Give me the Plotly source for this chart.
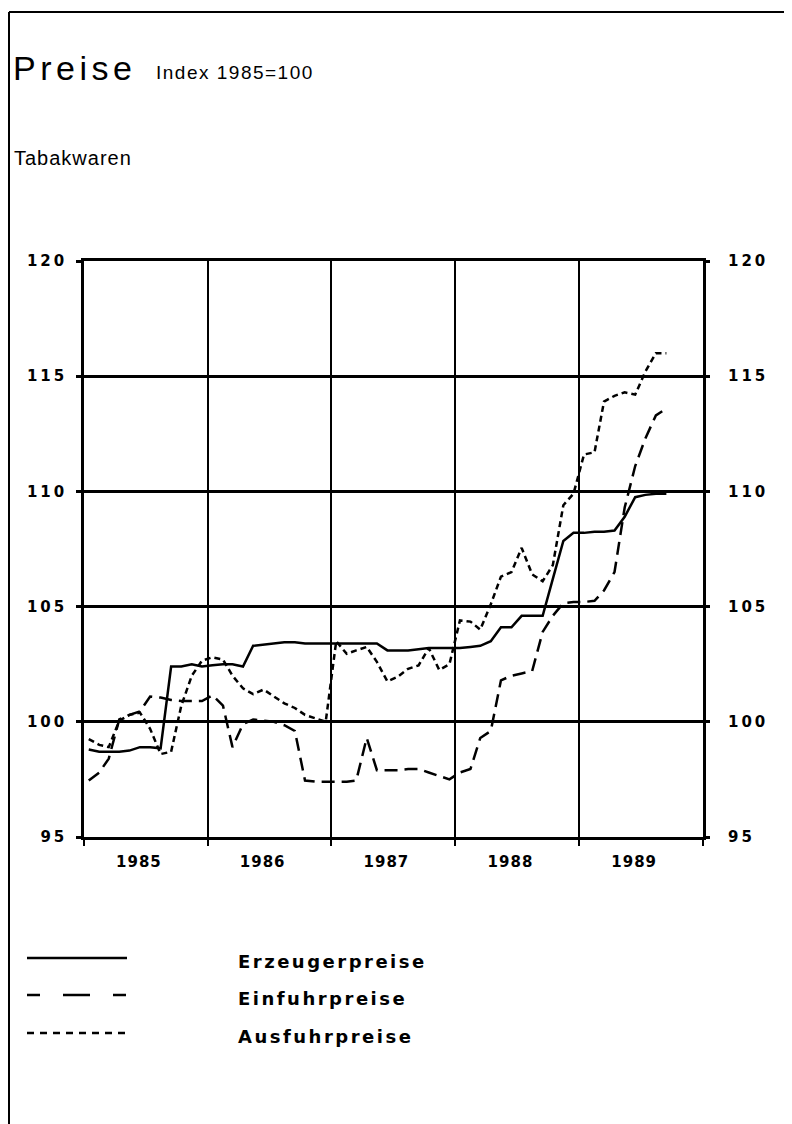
import pandas as pd
import plotly.graph_objects as go

# ---- data (monthly index values, 1985=100) ----
erzeuger = [98.8, 98.7, 98.7, 98.7, 98.75, 98.9, 98.9, 98.85, 102.4, 102.4, 102.5, 102.4,
            102.45, 102.5, 102.5, 102.4, 103.3, 103.35, 103.4, 103.45, 103.45, 103.4, 103.4, 103.4,
            103.4, 103.4, 103.4, 103.4, 103.4, 103.1, 103.1, 103.1, 103.15, 103.2, 103.2, 103.2,
            103.2, 103.25, 103.3, 103.5, 104.1, 104.1, 104.6, 104.6, 104.6, 106.2, 107.85, 108.2,
            108.2, 108.25, 108.25, 108.3, 108.9, 109.75, 109.85, 109.9, 109.9]
einfuhr = [97.45, 97.8, 98.4, 100.1, 100.3, 100.45, 101.1, 101.05, 100.95, 100.9, 100.9, 100.9,
           101.15, 100.7, 98.9, 99.9, 100.1, 100.05, 100.0, 99.85, 99.6, 97.45, 97.4, 97.4,
           97.4, 97.4, 97.45, 99.3, 97.9, 97.9, 97.9, 97.95, 97.95, 97.8, 97.65, 97.5,
           97.8, 97.95, 99.3, 99.6, 101.8, 102.0, 102.1, 102.2, 103.9, 104.6, 105.15, 105.2,
           105.2, 105.25, 105.7, 106.5, 109.3, 111.1, 112.3, 113.3, 113.6]
ausfuhr = [99.25, 99.0, 98.9, 100.05, 100.3, 100.4, 99.7, 98.6, 98.7, 100.7, 102.0, 102.65,
           102.8, 102.7, 102.0, 101.45, 101.2, 101.4, 101.1, 100.8, 100.6, 100.3, 100.15, 100.0,
           103.5, 102.95, 103.1, 103.25, 102.6, 101.75, 101.95, 102.3, 102.45, 103.2, 102.25, 102.5,
           104.4, 104.35, 104.0, 105.1, 106.3, 106.5, 107.55, 106.4, 106.1, 106.8, 109.4, 109.9,
           111.6, 111.7, 113.9, 114.15, 114.3, 114.2, 115.2, 116.0, 116.0]
years = ["1985", "1986", "1987", "1988", "1989"]
y_ticks = [95, 100, 105, 110, 115, 120]
series_names = ["Erzeugerpreise", "Einfuhrpreise", "Ausfuhrpreise"]

dates = pd.date_range(start="1985-01-01", periods=len(erzeuger), freq="MS") + pd.Timedelta(days=14)

W, H = 792, 1124
OFF = 8  # page body margin
L, R, T, B = 84, 703, 261, 837


def px_x(p):
    return (p - L) / (R - L)


def px_y(p):
    return (B - p) / (B - T)


dashes = ["solid", "13px,7px", "6px,4px"]
fig = go.Figure()
for name, vals, d in zip(series_names, [erzeuger, einfuhr, ausfuhr], dashes):
    fig.add_trace(go.Scatter(x=dates, y=vals, mode="lines", name=name,
                             line=dict(color="black", width=2.5, dash=d),
                             showlegend=False))

tickfont = dict(family="DejaVu Sans", size=15, color="black", weight="bold")
xlab = [f'<span style="letter-spacing:1px">{y}</span>' for y in years]
ylab = [f'<span style="letter-spacing:3px">{v}</span>' for v in y_ticks]
fig.update_layout(
    width=W, height=H,
    margin=dict(l=L - OFF, r=W - (R - OFF), t=T - OFF, b=H - (B - OFF), pad=0),
    paper_bgcolor="white", plot_bgcolor="white",
    xaxis=dict(
        type="date",
        range=["1985-01-01", "1990-01-01"],
        tickmode="array",
        tickvals=[f"{y}-06-12" for y in years],
        ticktext=xlab,
        ticks="", showgrid=False,
        showline=True, linecolor="black", linewidth=2.5, mirror=True,
        tickfont=tickfont, ticklabelstandoff=9,
        minor=dict(tickmode="array",
                   tickvals=[f"{y}-01-01" for y in years + ["1990"]],
                   showgrid=True, gridcolor="black", gridwidth=2,
                   ticks="outside", ticklen=6, tickwidth=2, tickcolor="black"),
        zeroline=False,
    ),
    yaxis=dict(
        range=[95, 120], tickmode="array", tickvals=y_ticks,
        ticktext=ylab,
        showgrid=True, gridcolor="black", gridwidth=2.5,
        ticks="outside", ticklen=5, tickwidth=2.5, tickcolor="black",
        showline=True, linecolor="black", linewidth=2.5, mirror=True,
        tickfont=tickfont, ticklabelstandoff=6, zeroline=False,
    ),
    yaxis2=dict(
        range=[95, 120], tickmode="array", tickvals=y_ticks,
        ticktext=ylab,
        overlaying="y", side="right", anchor="x",
        showgrid=False, ticks="outside", ticklen=6, tickwidth=2.5, tickcolor="black",
        showline=False, tickfont=tickfont, ticklabelstandoff=15, zeroline=False,
    ),
)

# invisible trace to anchor the right axis
fig.add_trace(go.Scatter(x=dates, y=erzeuger, yaxis="y2", mode="lines",
                         line=dict(width=0), opacity=0, hoverinfo="skip", showlegend=False))

# titles
fig.add_annotation(text='<span style="letter-spacing:4.5px">Preise</span>',
                   xref="paper", yref="paper", x=px_x(11), y=px_y(68),
                   xanchor="left", yanchor="middle", showarrow=False,
                   font=dict(family="Liberation Sans", size=34, color="black"))
fig.add_annotation(text='<span style="letter-spacing:1.5px">Index 1985=100</span>',
                   xref="paper", yref="paper", x=px_x(154), y=px_y(72),
                   xanchor="left", yanchor="middle", showarrow=False,
                   font=dict(family="Liberation Sans", size=19, color="black"))
fig.add_annotation(text='<span style="letter-spacing:1px">Tabakwaren</span>',
                   xref="paper", yref="paper", x=px_x(12), y=px_y(158),
                   xanchor="left", yanchor="middle", showarrow=False,
                   font=dict(family="Liberation Sans", size=20, color="black"))

# legend (drawn manually)
leg_y = [958, 995, 1033]
leg_dash = ["solid", "13px,23px,27px,23px", "7px,6px"]
for name, yy, d in zip(series_names, leg_y, leg_dash):
    fig.add_shape(type="line", xref="paper", yref="paper",
                  x0=px_x(27), x1=px_x(127), y0=px_y(yy), y1=px_y(yy),
                  line=dict(color="black", width=2.5, dash=d))
    fig.add_annotation(text=f'<span style="letter-spacing:2.5px">{name}</span>',
                       xref="paper", yref="paper", x=px_x(236), y=px_y(yy + 3),
                       xanchor="left", yanchor="middle", showarrow=False,
                       font=dict(family="DejaVu Sans", size=18, color="black", weight="bold"))

# page frame (top and left)
fig.add_shape(type="line", xref="paper", yref="paper",
              x0=px_x(9), x1=px_x(800), y0=px_y(12), y1=px_y(12),
              line=dict(color="black", width=2))
fig.add_shape(type="line", xref="paper", yref="paper",
              x0=px_x(9), x1=px_x(9), y0=px_y(12), y1=px_y(1130),
              line=dict(color="black", width=2))

fig.write_html("out.html")
